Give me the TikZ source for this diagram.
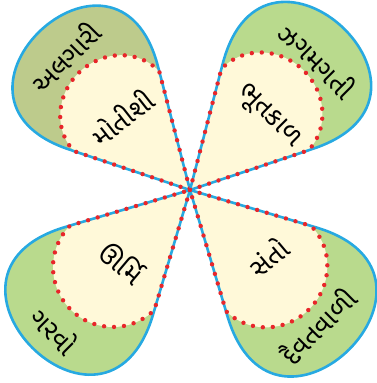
\documentclass[tikz,border=0pt]{standalone}
\usepackage{fontspec}
\newfontfamily\guj[Script=Gujarati]{Noto Sans Gujarati UI}
\definecolor{petalblue}{HTML}{27A9E1}
\definecolor{greenA}{HTML}{BDCB8C}
\definecolor{greenB}{HTML}{B9DA8D}
\definecolor{cream}{HTML}{FFF9D9}
\definecolor{dotred}{HTML}{E8262A}
\tikzset{
  blueline/.style={draw=petalblue, line width=2.6pt, line join=round},
  reddots/.style={draw=dotred, line width=4.4pt, dash pattern=on 0pt off 10pt, line cap=round},
  lbl/.style={font=\guj\fontsize{27}{27}\selectfont, text=black, inner sep=0pt},
}
\newcommand\drawpetal[4]{%
  \begin{scope}[shift={(190,193)}, rotate=#1, scale=#4]
    \fill[#2] (0,0) -- (114.3,62) .. controls (259.3,140.7) and (259.3,-140.7) .. (114.3,-62) -- cycle;
    \fill[cream] (0,0) -- (109.9,59.6) arc[start angle=90, end angle=-90, x radius=#3, y radius=59.6] -- cycle;
    \draw[blueline] (0,0) -- (114.3,62) .. controls (259.3,140.7) and (259.3,-140.7) .. (114.3,-62) -- cycle;
    \draw[reddots] (0,0) -- (109.9,59.6) arc[start angle=90, end angle=-90, x radius=#3, y radius=59.6] -- cycle;
  \end{scope}}
\begin{document}
\begin{tikzpicture}[x=1pt, y=1pt]
  \useasboundingbox (0,0) rectangle (377,383);
  \drawpetal{133}{greenA}{55}{0.98}
  \drawpetal{47}{greenB}{55}{1.0}
  \drawpetal{225}{greenB}{59}{1.0}
  \drawpetal{-45}{greenB}{57}{1.01}
  % labels
  \node[lbl, rotate=45] (tlout) at (65,326) {અલગારી};
  \node[lbl, rotate=38] (tlin) at (122,266) {મોતીશી};
  \node[lbl, rotate=-45] (trout) at (318,323) {ઝગમગતી};
  \node[lbl, rotate=-45] (trin) at (268,266) {ભૂતકાળ};
  \node[lbl, rotate=-40] (blin) at (122,121) {ઊર્મિ};
  \node[lbl, rotate=-45] (blout) at (55,53) {ગરવો};
  \node[lbl, rotate=40] (brin) at (268,126) {સંતો};
  \node[lbl, rotate=45] (brout) at (318,57) {દૈવતવાળી};
\end{tikzpicture}
\end{document}
